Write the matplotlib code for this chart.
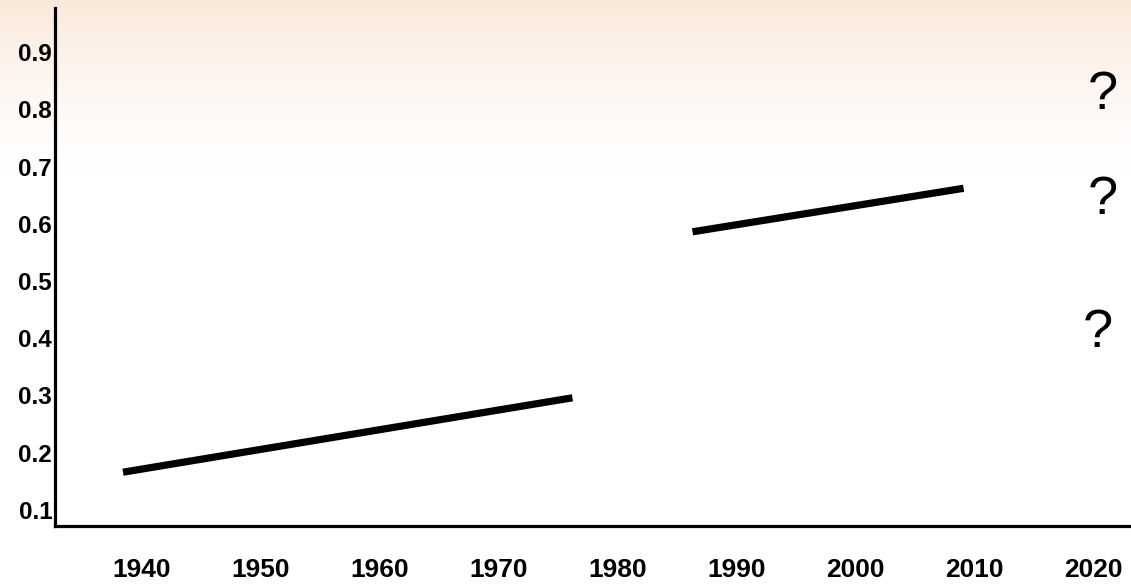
import numpy as np
import matplotlib.pyplot as plt

# data
seg1_years = [1938.4, 1976.2]
seg1_vals = [0.166, 0.296]
seg2_years = [1986.3, 2009.1]
seg2_vals = [0.586, 0.662]
# question marks (baseline positions)
question_years = [2020.8, 2020.8, 2020.4]
question_vals = [0.800, 0.617, 0.385]

ytick_vals = [0.1, 0.2, 0.3, 0.4, 0.5, 0.6, 0.7, 0.8, 0.9]
xtick_years = [1940, 1950, 1960, 1970, 1980, 1990, 2000, 2010, 2020]

plt.rcParams['font.family'] = ['Liberation Sans', 'DejaVu Sans']

fig = plt.figure(figsize=(11.31, 5.84), dpi=100)

# faded warm background at the top
bg = fig.add_axes([0, 0, 1, 1], zorder=0)
h = 584
rows = np.arange(h)
fade = np.clip(1 - rows / 170.0, 0, 1) ** 1.3
top = np.array([0.98, 0.915, 0.86])
img = np.ones((h, 1, 3)) * (1 - fade[:, None, None]) + top[None, None, :] * fade[:, None, None]
bg.imshow(img, aspect='auto', extent=[0, 1, 0, 1])
bg.axis('off')

ax = fig.add_axes([55 / 1131, 58 / 584, 1076 / 1131, 518 / 584], zorder=1)
ax.patch.set_alpha(0)

ax.plot(seg1_years, seg1_vals, color='black', lw=5.2, solid_capstyle='butt')
ax.plot(seg2_years, seg2_vals, color='black', lw=5.2, solid_capstyle='butt')
for x, y in zip(question_years, question_vals):
    ax.text(x, y, '?', fontsize=39, ha='center', va='baseline', color='black')

ax.set_xlim(1932.68, 2023.18)
ax.set_ylim(0.072, 0.977)
ax.set_yticks(ytick_vals)
ax.set_yticklabels([f'{v:.1f}' for v in ytick_vals], fontsize=17.5, fontweight='bold')
ax.set_xticks(xtick_years)
ax.set_xticklabels([str(y) for y in xtick_years], fontsize=19, fontweight='bold')
ax.tick_params(axis='both', length=0)
ax.tick_params(axis='y', pad=2)
ax.tick_params(axis='x', pad=23)

for s in ['top', 'right']:
    ax.spines[s].set_visible(False)
for s in ['left', 'bottom']:
    ax.spines[s].set_linewidth(2.3)

fig.savefig('out.png', dpi=100)
